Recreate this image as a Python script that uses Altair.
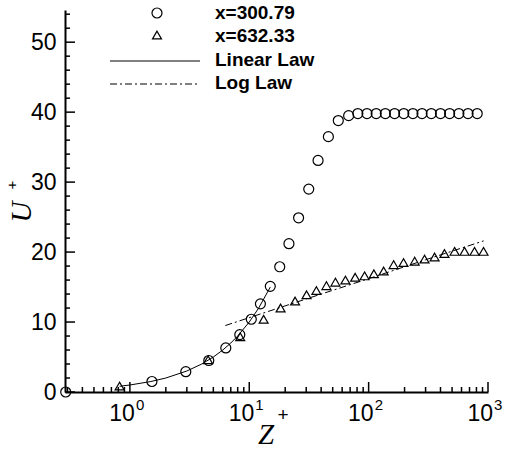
import altair as alt
import pandas as pd

# ---- data ----
circle_z = [0.29, 1.53, 2.94, 4.58, 6.36, 8.33, 10.4, 12.4, 15.0, 18.0, 21.5, 25.9,
            31.5, 37.7, 46.0, 55.7, 68.0, 81.2, 96.9, 115.7, 138, 165, 197, 235, 280,
            335, 400, 477, 570, 680, 812]
circle_u = [0.0, 1.5, 2.9, 4.5, 6.3, 8.2, 10.4, 12.6, 15.1, 17.9, 21.2, 24.9,
            29.0, 33.1, 36.5, 38.8, 39.5, 39.8, 39.8, 39.8, 39.8, 39.8, 39.8, 39.8, 39.8,
            39.8, 39.8, 39.8, 39.8, 39.8, 39.8]

tri_z = [0.82, 4.52, 8.4, 13.2, 18.3, 24.2, 30.2, 36.5, 44.3, 52.7, 63.9, 77.1, 92.5,
         110.7, 133.6, 162, 196, 243, 294, 357, 432, 525, 636, 771, 917]
tri_u = [0.85, 4.6, 7.9, 10.4, 12.0, 13.0, 13.9, 14.5, 15.2, 15.7, 16.0, 16.4, 16.6,
         16.9, 17.3, 18.2, 18.5, 18.7, 19.0, 19.3, 19.8, 20.1, 20.1, 20.1, 20.1]

linear_z = [0.82, 1, 1.5, 2, 3, 4, 5, 6, 7, 8, 10, 12, 15]
linear_u = [0.82, 1, 1.5, 2, 3, 4, 5, 6, 7, 8, 10, 12, 15]

log_z = [6.3, 30, 100, 300, 920]
log_u = [9.5, 13.3, 16.2, 18.9, 21.6]

legend_labels = ["x=300.79", "x=632.33", "Linear Law", "Log Law"]

x_major = [1, 10, 100, 1000]
x_exp = ["0", "1", "2", "3"]
x_minor = [0.3, 0.4, 0.5, 0.6, 0.7, 0.8, 0.9,
           2, 3, 4, 5, 6, 7, 8, 9,
           20, 30, 40, 50, 60, 70, 80, 90,
           200, 300, 400, 500, 600, 700, 800, 900]
y_major = [0, 10, 20, 30, 40, 50]
y_minor = [2, 4, 6, 8, 12, 14, 16, 18, 22, 24, 26, 28, 32, 34, 36, 38,
           42, 44, 46, 48, 52, 54]

# ---- layout ----
W, H = 423, 382
SANS = "Liberation Sans"
SERIF = "Liberation Serif"

xs = alt.Scale(type="log", domain=[0.286, 1000], nice=False)
ys = alt.Scale(domain=[0, 54.6], nice=False, zero=False)

x_axis = alt.Axis(labels=False, ticks=False, tickSize=0, grid=False, title=None,
                  domainColor="black", domainWidth=2)
y_axis = alt.Axis(values=y_major, ticks=False, tickSize=0, grid=False, title=None,
                  domainColor="black", domainWidth=2, labelFont=SANS,
                  labelFontSize=23, labelColor="black", labelPadding=9)

X = lambda f: alt.X(f"{f}:Q", scale=xs, axis=x_axis)
Y = lambda f: alt.Y(f"{f}:Q", scale=ys, axis=y_axis)

circ_df = pd.DataFrame({"z": circle_z, "u": circle_u})
tri_df = pd.DataFrame({"z": tri_z, "u": tri_u})
lin_df = pd.DataFrame({"z": linear_z, "u": linear_u})
log_df = pd.DataFrame({"z": log_z, "u": log_u})

lin_line = alt.Chart(lin_df).mark_line(color="black", strokeWidth=1).encode(x=X("z"), y=Y("u"))
log_line = alt.Chart(log_df).mark_line(color="black", strokeWidth=1,
                                        strokeDash=[7, 3, 2, 3]).encode(x=X("z"), y=Y("u"))
circles = alt.Chart(circ_df).mark_point(shape="circle", filled=False, color="black",
                                        size=100, strokeWidth=1.2, opacity=1).encode(x=X("z"), y=Y("u"))
tris = alt.Chart(tri_df).mark_point(shape="triangle-up", filled=False, color="black",
                                    size=80, strokeWidth=1.2, opacity=1).encode(x=X("z"), y=Y("u"))

# ---- inward ticks ----
xmaj_df = pd.DataFrame({"z": x_major, "e": x_exp})
xmin_df = pd.DataFrame({"z": x_minor})
ymaj_df = pd.DataFrame({"u": y_major})
ymin_df = pd.DataFrame({"u": y_minor})

xt_maj = alt.Chart(xmaj_df).mark_rule(color="black", strokeWidth=1.5).encode(
    x=X("z"), y=alt.value(H), y2=alt.value(H - 10))
xt_min = alt.Chart(xmin_df).mark_rule(color="black", strokeWidth=1.5).encode(
    x=X("z"), y=alt.value(H), y2=alt.value(H - 5))
yt_maj = alt.Chart(ymaj_df).mark_rule(color="black", strokeWidth=1.5).encode(
    y=Y("u"), x=alt.value(0), x2=alt.value(10))
yt_min = alt.Chart(ymin_df).mark_rule(color="black", strokeWidth=1.5).encode(
    y=Y("u"), x=alt.value(0), x2=alt.value(5))

# ---- x tick labels 10^n ----
xl_base = alt.Chart(xmaj_df).mark_text(font=SANS, fontSize=23, color="black",
                                       align="right", baseline="alphabetic", dx=5).encode(
    x=X("z"), y=alt.value(H + 29), text=alt.value("10"))
xl_exp = alt.Chart(xmaj_df).mark_text(font=SANS, fontSize=15, color="black",
                                      align="left", baseline="alphabetic", dx=6).encode(
    x=X("z"), y=alt.value(H + 18), text="e:N")

# ---- axis titles ----
one = pd.DataFrame({"k": [0]})
u_title = alt.Chart(one).mark_text(font=SERIF, fontStyle="italic", fontSize=29, angle=270,
                                   align="center", baseline="middle", color="black").encode(
    x=alt.value(-43), y=alt.value(202), text=alt.value("U"))
u_plus = alt.Chart(one).mark_text(font=SANS, fontSize=15, angle=270,
                                  align="center", baseline="middle", color="black").encode(
    x=alt.value(-53), y=alt.value(175), text=alt.value("+"))
z_title = alt.Chart(one).mark_text(font=SERIF, fontStyle="italic", fontSize=29,
                                   align="center", baseline="middle", color="black").encode(
    x=alt.value(201), y=alt.value(425), text=alt.value("Z"))
z_plus = alt.Chart(one).mark_text(font=SANS, fontSize=19,
                                  align="center", baseline="middle", color="black").encode(
    x=alt.value(218), y=alt.value(405), text=alt.value("+"))

# ---- legend ----
leg_c = alt.Chart(one).mark_point(shape="circle", filled=False, color="black", size=100,
                                  strokeWidth=1.2, opacity=1).encode(
    x=alt.value(92), y=alt.value(3))
leg_t = alt.Chart(one).mark_point(shape="triangle-up", filled=False, color="black", size=80,
                                  strokeWidth=1.2, opacity=1).encode(
    x=alt.value(92), y=alt.value(25))
leg_l = alt.Chart(one).mark_rule(color="black", strokeWidth=1).encode(
    x=alt.value(45), x2=alt.value(135), y=alt.value(51))
leg_g = alt.Chart(one).mark_rule(color="black", strokeWidth=1, strokeDash=[7, 3, 2, 3]).encode(
    x=alt.value(45), x2=alt.value(135), y=alt.value(74))
leg_texts = []
for lab, yy in zip(legend_labels, [3, 26, 50, 73]):
    leg_texts.append(alt.Chart(one).mark_text(font=SANS, fontSize=19, fontWeight="bold",
                                              align="left", baseline="middle", color="black").encode(
        x=alt.value(150), y=alt.value(yy), text=alt.value(lab)))

chart = alt.layer(
    lin_line, log_line, circles, tris,
    xt_maj, xt_min, yt_maj, yt_min, xl_base, xl_exp,
    u_title, u_plus, z_title, z_plus,
    leg_c, leg_t, leg_l, leg_g, *leg_texts
).properties(
    width=W, height=H,
    padding={"left": 65, "top": 10, "right": 17, "bottom": 59},
    autosize=alt.AutoSizeParams(type="none"),
    background="white",
).configure_view(stroke=None)

chart.save("out.html", embed_options={"renderer": "svg", "actions": False})
